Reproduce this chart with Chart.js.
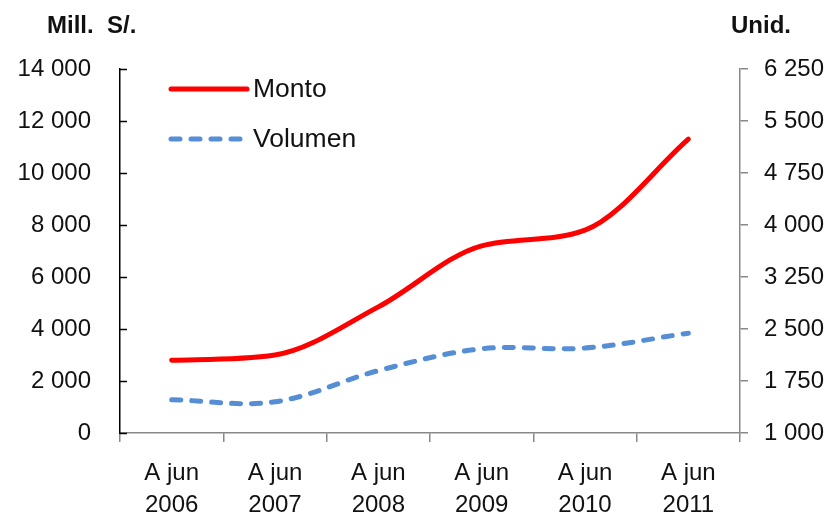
<!DOCTYPE html>
<html>
<head>
<meta charset="utf-8">
<script src="https://cdn.jsdelivr.net/npm/chart.js@4"></script>
<style>
  html, body { margin: 0; padding: 0; background: #fff; }
  #wrap { width: 837px; height: 519px; }
</style>
</head>
<body>
<div id="wrap"><canvas id="chart" width="837" height="519"></canvas></div>
<script>
const years = ['2006', '2007', '2008', '2009', '2010', '2011'];
const montoValues = [2800, 3000, 4850, 7200, 7800, 11300];
const volumenValues = [1480, 1450, 1900, 2215, 2225, 2440];
const leftTicks = [0, 2000, 4000, 6000, 8000, 10000, 12000, 14000];
const rightTicks = [1000, 1750, 2500, 3250, 4000, 4750, 5500, 6250];

const FONT = '"Liberation Sans", Arial, sans-serif';
const TXT = '#111';

// número con espacio de miles: 14 000
function fmt(v) {
    return String(v).replace(/\B(?=(\d{3})+(?!\d))/g, ' ');
}

// títulos de ejes, marcas interiores del eje izquierdo y leyenda
const extras = {
    id: 'extras',
    afterDraw(chart) {
        const ctx = chart.ctx;
        const y = chart.scales.y;
        const area = chart.chartArea;
        ctx.save();
        ctx.strokeStyle = '#000';
        ctx.lineWidth = 1.5;
        leftTicks.forEach(t => {
            const py = Math.round(y.getPixelForValue(t)) + 0.5;
            ctx.beginPath();
            ctx.moveTo(area.left, py);
            ctx.lineTo(area.left + 7, py);
            ctx.stroke();
        });

        ctx.fillStyle = TXT;
        ctx.font = 'bold 24px ' + FONT;
        ctx.textBaseline = 'middle';
        ctx.textAlign = 'left';
        ctx.fillText('Mill.  S/.', 47, 26);
        ctx.fillText('Unid.', 731, 26);

        // leyenda
        const items = chart.data.datasets;
        items.forEach((ds, i) => {
            const ly = 89 + i * 50;
            ctx.strokeStyle = ds.borderColor;
            ctx.lineWidth = 5;
            ctx.lineCap = 'round';
            ctx.setLineDash(ds.borderDash || []);
            ctx.beginPath();
            ctx.moveTo(171, ly);
            ctx.lineTo(247, ly);
            ctx.stroke();
            ctx.setLineDash([]);
            ctx.fillStyle = TXT;
            ctx.font = '26.5px ' + FONT;
            ctx.fillText(ds.label, 253, ly + 1);
        });
        ctx.restore();
    }
};

new Chart(document.getElementById('chart'), {
    type: 'line',
    data: {
        labels: years.map(y => ['A jun', y]),
        datasets: [{
            label: 'Monto',
            data: montoValues,
            yAxisID: 'y',
            borderColor: '#ff0000',
            borderWidth: 5,
            borderCapStyle: 'round',
            cubicInterpolationMode: 'monotone',
            pointRadius: 0
        }, {
            label: 'Volumen',
            data: volumenValues,
            yAxisID: 'y1',
            borderColor: '#558ed5',
            borderWidth: 5,
            borderCapStyle: 'round',
            borderDash: [9, 11],
            tension: 0.35,
            pointRadius: 0
        }]
    },
    options: {
        responsive: false,
        animation: false,
        layout: { padding: { top: 69, left: 0, right: 0, bottom: 0 } },
        plugins: {
            legend: { display: false },
            tooltip: { enabled: false }
        },
        scales: {
            x: {
                offset: true,
                grid: {
                    offset: true,
                    drawOnChartArea: false,
                    color: '#888',
                    lineWidth: 1.5,
                    tickLength: 9
                },
                border: { color: '#888', width: 1.5 },
                ticks: {
                    color: TXT,
                    font: { family: FONT, size: 24, lineHeight: 1.32 },
                    padding: 16,
                    maxRotation: 0
                },
                afterFit(s) { s.height = 86; }
            },
            y: {
                position: 'left',
                min: 0,
                max: 14000,
                afterBuildTicks(s) { s.ticks = leftTicks.map(v => ({ value: v })); },
                grid: { display: false },
                border: { color: '#000', width: 1.5 },
                ticks: {
                    color: TXT,
                    font: { family: FONT, size: 24 },
                    padding: 21,
                    callback: v => fmt(v)
                },
                afterFit(s) { s.width = 120; }
            },
            y1: {
                position: 'right',
                min: 1000,
                max: 6250,
                afterBuildTicks(s) { s.ticks = rightTicks.map(v => ({ value: v })); },
                grid: {
                    drawOnChartArea: false,
                    color: '#888',
                    lineWidth: 1.5,
                    tickLength: 8
                },
                border: { color: '#888', width: 1.5 },
                ticks: {
                    color: TXT,
                    font: { family: FONT, size: 24 },
                    padding: 16,
                    callback: v => fmt(v)
                },
                afterFit(s) { s.width = 97; }
            }
        }
    },
    plugins: [extras]
});
</script>
</body>
</html>
